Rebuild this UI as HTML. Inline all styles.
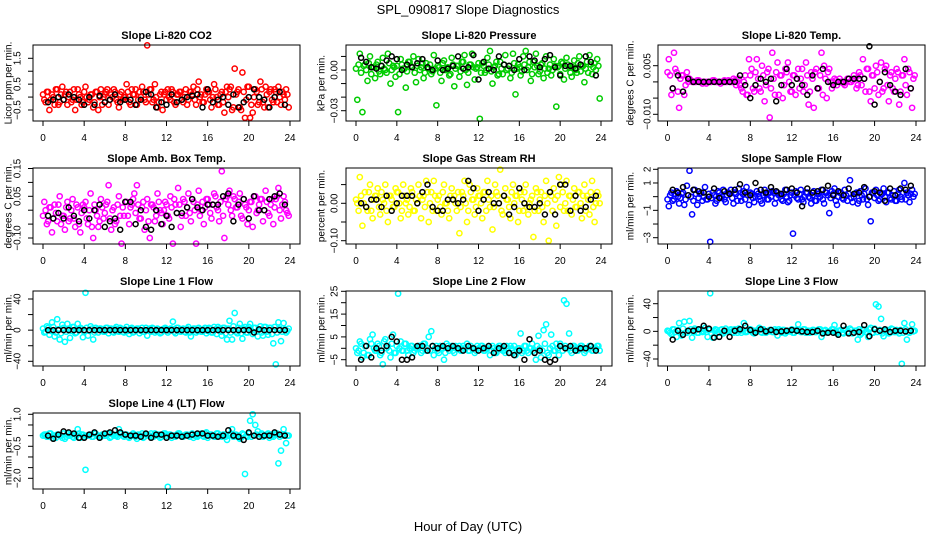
<!DOCTYPE html>
<html><head><meta charset="utf-8"><style>
body{margin:0;background:#fff;}
svg{display:block;font-family:"Liberation Sans",sans-serif;}
</style></head><body>
<svg id="chart" width="936" height="540" viewBox="0 0 936 540" xmlns="http://www.w3.org/2000/svg">
<text x="468" y="14" text-anchor="middle" font-size="13">SPL_090817  Slope Diagnostics</text>
<text x="468" y="531" text-anchor="middle" font-size="13">Hour of Day (UTC)</text>
</svg>
<script>
const xTicks=[0,4,8,12,16,20,24];
const co2Vals=[-0.1,0.2,-0.5,0.1,-0.3,0.3,-0.2,0.4,0.1,-0.3,0.2,-0.1,-0.5,0.3,0.0,-0.2,0.4,-0.2,0.1,-0.4,0.2,-0.5,0.3,0.0,0.2,-0.3,0.1,0.3,-0.1,-0.4,0.2,0.0,0.5,-0.2,0.3,0.1,-0.3,0.2,0.4,-0.1,2.0,0.3,-0.2,0.5,-0.4,0.1,-0.5,0.2,0.3,-0.1,0.2,-0.3,0.1,0.2,-0.2,0.3,-0.1,0.2,0.4,-0.3,0.6,0.1,-0.2,0.3,0.2,-0.4,0.5,0.0,-0.3,0.2,-0.6,0.4,0.3,-0.5,1.1,0.2,-0.4,0.95,-0.8,0.4,-0.8,-0.6,0.3,-0.3,0.6,-0.2,0.4,-0.4,0.3,-0.2,0.2,0.4,-0.3,0.1,0.3,-0.4];
const co2Core=[0.1,-0.2,0.2,-0.1,0.0,0.3,-0.3,0.1,-0.1,0.2,0.0,-0.2,0.3,-0.1,0.1,-0.3,0.2,0.0,-0.1,0.1,-0.2,0.2,0.0,-0.3,0.1,0.3,-0.1,0.0,0.2,-0.2,0.1,-0.1,0.0,0.2,-0.3,0.1,0.3,-0.1,0.0,0.2,-0.2,0.1,0.3,-0.1,0.0,-0.2,0.2,0.1,-0.1,0.0,0.3,-0.2,0.1,0.2,-0.1,0.0,-0.3,0.2,0.1,-0.1,0.3,0.0,-0.2,0.1,0.2,-0.1,0.0,0.3,-0.3,0.1,-0.2,0.2,0.0,0.4,-0.4,0.1,0.3,-0.5,0.2,-0.1,0.4,-0.3,0.0,0.2,-0.2,0.3,-0.4,0.1,0.2,-0.1,0.3,-0.2,0.0,0.2,-0.1,0.1];
const co2Med=[-0.2,-0.1,0.0,-0.1,0.1,0.0,-0.1,-0.3,0.0,-0.3,0.05,-0.2,-0.1,0.1,-0.2,-0.1,-0.1,-0.3,-0.1,0.2,0.1,-0.4,-0.2,-0.3,0.1,-0.2,-0.1,0.0,0.05,0.1,-0.4,0.3,-0.2,-0.1,0.0,-0.3,0.1,-0.4,-0.2,0.0,0.3,0.0,-0.1,-0.4,0.0,0.2,-0.3];
const presVals=[-0.022,0.012,-0.031,0.004,-0.008,0.010,0.002,-0.006,0.006,-0.003,0.009,0.000,0.012,-0.010,0.003,-0.005,-0.031,0.008,0.001,-0.013,0.006,0.003,0.010,-0.009,0.008,0.002,-0.006,0.005,0.001,-0.003,0.011,-0.026,0.002,-0.008,0.007,0.001,-0.004,0.009,-0.012,0.003,-0.005,0.006,0.011,-0.011,0.004,0.012,-0.007,0.002,-0.036,0.005,-0.002,0.009,0.014,-0.010,0.003,-0.004,0.006,-0.003,0.011,0.001,-0.006,0.012,-0.018,0.004,-0.004,0.010,0.014,0.002,-0.008,0.006,0.012,-0.003,0.004,-0.006,0.010,0.001,-0.004,0.008,-0.027,0.003,0.006,-0.007,0.009,0.002,-0.005,0.007,-0.002,0.010,0.003,-0.009,0.006,0.011,-0.003,0.005,0.008,-0.021];
const presCore=[0.001,0.004,-0.002,0.003,0.000,0.005,-0.003,0.002,0.004,-0.001,0.003,0.001,-0.002,0.005,0.000,0.002,0.003,-0.003,0.004,0.001,-0.001,0.006,0.002,-0.002,0.003,0.000,0.005,-0.002,0.002,0.004,-0.001,0.001,0.003,-0.002,0.005,0.000,0.002,-0.003,0.004,0.001,0.003,-0.001,0.006,0.000,-0.002,0.004,0.002,0.001,0.005,-0.002,0.003,0.000,0.004,-0.001,0.002,0.006,-0.003,0.001,0.004,0.000,0.003,-0.002,0.005,0.001,0.002,-0.001,0.004,0.000,0.006,-0.003,0.002,0.003,-0.001,0.005,0.001,-0.002,0.004,0.000,0.003,0.002,-0.003,0.005,0.001,0.004,-0.002,0.002,0.000,0.005,-0.001,0.003,0.001,-0.002,0.004,0.002,0.000,0.003];
const presMed=[0.009,0.006,0.002,0.001,0.003,0.007,0.010,0.008,0.000,0.004,0.002,0.005,0.008,0.002,0.000,0.007,0.000,0.001,0.003,0.010,0.001,0.002,0.011,-0.007,0.006,0.001,0.000,0.010,0.004,0.003,0.000,0.008,0.000,0.010,0.007,0.002,0.008,0.011,0.002,-0.004,0.003,0.003,0.001,0.004,0.010,0.006,-0.004];
const tempVals=[0.007,-0.004,0.009,0.003,-0.008,0.002,-0.004,0.003,0.001,0.000,0.000,0.0005,0.000,-0.0005,0.000,0.000,0.000,0.0005,0.000,0.000,-0.0005,0.000,0.000,0.0005,0.000,0.001,-0.001,0.001,-0.002,0.000,-0.004,0.007,0.004,-0.003,0.007,-0.002,0.005,-0.006,0.003,-0.011,0.009,-0.004,0.006,0.002,-0.005,0.004,0.006,-0.003,0.002,-0.004,0.004,0.001,-0.003,0.006,-0.007,0.003,-0.008,0.004,-0.002,0.009,0.005,-0.005,0.004,-0.002,0.001,-0.001,0.001,0.000,-0.001,0.001,0.000,0.0005,0.001,-0.001,0.002,0.007,-0.003,0.004,-0.006,0.002,0.005,-0.004,0.006,-0.002,0.005,-0.006,0.003,-0.003,0.004,-0.007,0.002,0.007,-0.004,0.003,-0.008,0.002];
const tempCore=[0.003,0.002,-0.002,0.004,-0.003,0.001,0.002,-0.001,0.000,0.0005,0.000,0.000,0.0005,0.000,0.000,-0.0005,0.000,0.000,0.0005,0.000,0.000,0.000,0.0005,0.000,0.000,0.000,0.0005,0.000,-0.001,-0.003,0.002,-0.004,0.002,-0.002,0.003,0.001,-0.003,0.002,-0.001,0.004,-0.002,0.001,0.003,-0.004,0.002,-0.001,0.003,0.000,-0.003,0.002,0.001,-0.002,0.004,-0.001,0.002,-0.003,0.001,0.003,-0.002,0.002,-0.004,0.001,0.003,0.000,0.000,0.0005,0.000,0.000,-0.0005,0.000,0.001,0.000,0.002,-0.002,0.003,-0.001,0.001,0.004,-0.003,0.002,-0.002,0.003,0.000,-0.003,0.004,-0.001,0.002,-0.002,0.001,0.003,-0.003,0.002,-0.001,0.004,-0.002,0.001];
const tempMed=[-0.002,0.002,-0.003,0.001,0.000,0.000,0.000,0.000,0.000,0.000,0.000,0.000,0.000,0.002,-0.001,-0.005,-0.001,0.001,0.000,0.001,-0.006,-0.001,0.004,-0.001,0.001,-0.001,-0.004,0.002,-0.002,0.004,0.000,-0.001,0.000,0.000,0.001,0.001,0.001,0.001,0.011,-0.007,0.000,0.003,-0.001,-0.003,-0.004,0.004,-0.002];
const ambVals=[0.03,-0.05,0.01,-0.08,0.02,-0.04,0.05,-0.02,-0.07,0.03,-0.03,0.04,-0.06,0.01,-0.08,0.02,0.03,-0.05,0.06,-0.10,0.00,-0.06,0.04,-0.03,0.02,0.09,-0.07,0.01,-0.04,0.05,-0.12,-0.02,0.03,-0.05,0.02,0.06,0.09,-0.03,0.01,-0.07,0.04,-0.10,0.02,-0.04,0.06,0.00,-0.05,0.03,-0.02,0.05,-0.12,0.02,0.08,-0.06,0.04,-0.02,0.06,-0.04,0.03,-0.12,0.07,0.00,-0.05,0.04,0.02,-0.03,0.06,0.01,-0.04,0.14,-0.10,0.05,0.07,-0.02,0.04,0.01,0.06,-0.03,0.02,-0.05,0.03,-0.06,0.05,0.00,0.04,-0.04,0.07,-0.01,0.02,-0.05,0.04,0.08,-0.03,0.05,0.00,-0.02];
const ambCore=[-0.02,0.00,-0.04,0.01,-0.03,-0.01,0.02,-0.05,-0.02,0.01,-0.04,0.00,-0.03,0.02,-0.05,-0.01,0.01,-0.03,0.00,-0.06,0.02,-0.02,-0.04,0.01,-0.01,0.03,-0.03,0.00,-0.05,0.02,-0.02,0.01,0.03,-0.02,0.01,0.04,-0.01,0.02,-0.03,0.03,0.00,-0.04,0.02,0.01,-0.02,0.03,-0.01,0.00,0.02,-0.03,0.01,0.04,-0.01,0.02,-0.02,0.03,0.01,-0.01,0.04,0.00,0.02,-0.02,0.03,0.01,0.04,-0.01,0.02,0.05,0.00,0.03,-0.02,0.04,0.02,0.00,0.05,0.01,0.03,-0.02,0.04,0.01,0.00,0.03,0.05,-0.01,0.02,0.04,0.00,0.03,-0.02,0.04,0.01,0.05,0.00,0.02,0.03,-0.01];
const ambMed=[-0.02,-0.03,-0.01,-0.03,0.01,-0.02,-0.04,0.00,-0.03,0.00,0.02,-0.06,-0.04,-0.03,-0.07,0.03,0.03,-0.05,0.00,-0.06,-0.07,0.00,-0.05,-0.02,-0.06,-0.01,-0.01,0.01,0.04,0.01,0.00,0.02,0.02,0.02,0.05,0.06,-0.04,0.02,0.04,-0.03,0.05,0.00,0.00,0.04,0.05,0.06,0.02];
const rhVals=[0.00,0.07,-0.06,0.03,-0.02,0.05,-0.04,0.02,0.04,-0.03,0.01,0.05,-0.05,0.02,-0.01,0.04,0.03,-0.04,0.05,0.00,-0.03,0.04,-0.02,0.01,0.05,-0.04,0.02,0.06,-0.05,0.03,0.06,-0.02,0.02,-0.03,0.05,0.00,-0.04,0.04,0.02,-0.02,-0.08,0.03,0.06,-0.05,0.05,0.01,-0.03,0.04,0.02,-0.04,0.03,0.06,-0.01,-0.07,0.05,0.02,0.09,-0.03,0.04,0.01,-0.04,0.05,0.02,-0.05,0.03,-0.02,0.05,-0.03,0.01,-0.09,0.04,-0.02,0.03,-0.05,0.06,-0.10,0.02,0.04,-0.06,0.07,0.05,-0.02,0.06,0.02,-0.03,0.04,-0.01,0.03,-0.04,0.05,0.02,-0.03,0.06,-0.05,0.03,0.00];
const rhCore=[0.01,-0.02,0.02,0.00,-0.01,0.03,-0.02,0.01,0.02,-0.01,0.03,0.00,-0.02,0.02,0.01,-0.01,0.03,0.00,-0.02,0.02,0.01,-0.01,0.03,-0.02,0.00,0.02,0.01,-0.01,0.03,0.00,-0.02,0.02,0.01,-0.01,0.03,0.00,-0.02,0.02,0.01,0.00,0.03,-0.01,0.02,0.00,-0.02,0.03,0.01,-0.01,0.02,0.00,0.03,-0.02,0.01,0.02,-0.01,0.03,0.00,-0.02,0.02,0.01,-0.01,0.03,0.00,0.02,-0.02,0.01,0.03,-0.01,0.00,0.02,-0.02,0.03,0.01,-0.01,0.02,0.00,0.03,-0.02,0.01,0.02,-0.01,0.03,0.00,-0.02,0.02,0.01,-0.01,0.03,0.00,0.02,-0.02,0.01,0.03,-0.01,0.00,0.02];
const rhMed=[0.00,-0.01,0.01,0.01,-0.01,0.02,-0.02,0.00,0.02,0.02,0.02,0.00,0.03,0.05,-0.01,-0.02,-0.02,0.01,0.01,0.00,0.01,0.06,0.04,-0.02,0.01,0.03,0.00,0.00,0.02,-0.03,-0.01,0.04,0.00,-0.01,-0.01,0.00,-0.03,0.03,-0.03,0.05,0.05,-0.02,0.02,-0.02,-0.01,0.01,0.02];
const sampVals=[-0.7,0.3,-0.2,0.4,-0.5,0.2,-0.6,0.8,1.9,-1.3,0.5,-0.6,0.2,-0.3,0.7,-0.2,-3.3,0.3,-0.5,0.4,-0.1,0.5,-0.4,0.3,0.5,-0.5,0.2,0.6,-0.3,0.4,0.7,-0.6,0.2,-0.4,0.4,0.0,-0.5,0.5,-0.2,0.3,0.4,-0.5,0.3,0.2,-0.3,0.5,-0.4,0.1,-2.7,0.4,-0.2,0.5,-0.4,0.3,0.0,-0.5,0.4,-0.3,0.2,0.5,-0.5,0.3,-1.2,0.4,0.6,-0.6,0.3,-0.1,0.5,-0.3,1.2,-0.4,0.2,-0.5,0.4,-0.2,0.6,-0.6,-1.8,0.3,0.5,-0.3,0.2,0.6,-0.4,0.3,-0.2,0.4,-0.3,0.5,-0.2,1.0,0.3,-0.4,0.5,0.2];
const sampCore=[-0.2,0.1,-0.3,0.2,0.0,-0.1,0.3,-0.2,0.1,0.0,-0.3,0.2,-0.1,0.3,0.0,-0.2,0.2,-0.1,0.1,-0.3,0.3,0.0,-0.2,0.1,0.2,-0.1,0.3,-0.3,0.0,0.2,-0.2,0.1,0.3,-0.1,0.0,0.2,-0.3,0.1,0.2,-0.2,0.0,0.3,-0.1,0.1,-0.2,0.2,0.0,-0.3,0.3,0.1,-0.1,0.2,-0.2,0.0,0.3,-0.1,0.1,-0.3,0.2,0.0,-0.2,0.3,0.1,-0.1,0.2,-0.3,0.0,0.3,-0.2,0.1,0.2,-0.1,0.0,0.3,-0.3,0.1,0.2,-0.2,0.0,0.3,-0.1,0.1,-0.2,0.2,0.0,0.3,-0.1,0.1,-0.3,0.2,0.0,0.3,-0.2,0.1,0.2,0.0];
const sampMed=[0.5,0.3,0.7,0.1,0.5,0.4,0.3,0.0,0.6,-0.1,0.4,0.2,0.5,0.9,0.3,0.1,1.0,0.5,0.3,0.7,0.4,0.2,0.5,0.6,0.3,-0.7,0.6,0.3,0.4,0.5,0.8,0.1,0.4,0.1,0.6,0.2,0.3,0.7,0.0,0.4,0.3,-0.3,0.6,0.1,0.6,0.5,0.8];
const l1Vals=[-3,5,-6,10,-8,14,-12,7,-15,8,-10,4,-4,8,3,-9,48,-7,5,-12,3,-3,2,-2,3,-4,2,-3,4,-2,1,-3,4,-5,3,-2,2,-4,3,-2,-7,2,3,-3,2,-4,1,3,-3,2,11,-4,3,-2,2,-3,4,-8,2,-3,3,-2,1,-4,3,-3,4,-5,2,-7,3,-12,12,-12,22,-4,8,-11,4,-3,8,-5,3,-8,5,-7,4,-6,3,-17,-44,10,-14,9,-3,2];
const l1Core=[2,-2,3,-1,4,-3,1,-4,3,-2,2,-1,4,-3,1,2,-2,3,-1,2,-3,1,2,-1,-2,3,1,-2,2,-1,3,-2,1,-1,2,-3,1,2,-1,-2,3,1,-2,2,-1,1,-3,2,1,-1,2,-2,3,-1,1,-2,2,-3,1,2,-1,1,-2,3,-1,2,-3,1,4,-2,3,-4,2,-3,5,-2,3,-4,2,-3,4,-1,3,-2,1,-3,4,-2,3,-5,4,-3,2,-2,1,-1];
const l1Med=[0,0,0,0,0,0,0,0,0,0,0,0,0,0,0,0,0,0,0,0,0,0,0,0,0,0,0,0,0,0,0,0,0,0,0,0,0,0,0,0,-3,1,0,0,0,0,0];
const l2Vals=[-2,3,-4,1,-3,4,6,-1,2,-3,-7,4,1,-4,6,-2,24,3,-1,2,-3,1,-2,0,1,-2,2,-1,5,7.5,-3,1,-2,0,-5,2,-1,1,-2,0,1,-1,0,2,-1,0,-2,1,0,1,-1,0,-3,1,-2,0,1,-1,-2,0,1,-2,-3,0,6.5,-1,1,-2,0,-1,-5,5.5,-4,8,10.5,-3,6,-1,2,-3,1,21,19.5,6.5,-2,1,-1,0,1,-2,0,1,-1,0,1,-1];
const l2Core=[0,-1,2,-2,1,-3,2,0,-1,1,-2,3,0,-1,2,-2,1,0,-1,2,-1,0,1,-1,0,1,-1,2,0,-1,1,0,-1,1,0,-2,1,0,-1,1,0,-1,1,0,-1,1,0,-1,0,1,-1,0,1,-1,0,-2,1,0,-1,1,-2,0,1,-1,0,-2,1,-1,0,2,-2,1,0,-1,2,-2,0,1,-1,0,2,-1,1,0,-1,1,0,-1,1,0,-1,0,1,-1,0,1];
const l2Med=[-5,1,-4,0,-1,1,5,3,-5,-5,-4,1,1,-1,1,0,1,0,1,0,-1,1,0,-1,0,1,-2,0,1,-2,-3,-1,-5,4,-2,-1,-5,-6,-5,1,0,1,-1,0,0,1,-1];
const l3Vals=[0,-4,3,-8,12,-6,14,-2,15,-9,4,-2,3,-1,5,-8,55,-9,3,-1,2,-3,4,0,3,-2,1,4,-2,12,-1,3,2,-3,1,5,-2,1,0,2,-1,3,-6,1,2,-3,1,0,-2,2,10,-1,3,-2,1,0,2,-1,3,-8,1,-2,0,3,9,-3,1,-2,2,-1,4,-3,1,-12,-5,3,-1,-8,5,-2,39,36,18,-7,2,-3,4,-1,2,-3,-47,12,-12,-2,10,1];
const l3Core=[1,-2,3,-1,2,-3,4,-2,1,3,-1,2,-2,3,0,-1,2,-3,1,2,-2,3,-1,1,2,-1,3,-2,1,2,-1,0,3,-2,1,2,-1,3,-2,0,2,-1,1,3,-2,2,-1,0,3,-2,1,2,-1,3,0,-2,2,-1,1,3,-2,2,-1,0,3,-2,1,2,-3,3,-1,2,-2,1,3,-3,2,-1,3,-2,4,-1,2,-3,1,2,-2,3,-1,0,2,-2,3,-1,1,0];
const l3Med=[-12,1,-5,1,1,3,8,4,-9,-8,1,-8,1,3,8,2,-2,3,0,2,-1,0,1,2,1,0,-1,-1,1,-3,-2,-2,-5,8,-3,-2,-1,9,-7,3,1,3,-1,1,1,0,1];
const l4Vals=[0.05,-0.05,0.1,-0.1,0.0,0.05,0.0,-0.1,-0.15,0.1,0.0,-0.05,0.05,0.3,-0.1,0.05,-1.6,0.0,0.05,-0.05,0.1,0.0,-0.05,0.05,0.0,0.1,-0.05,0.05,0.0,0.3,0.1,-0.05,0.05,-0.1,0.0,0.05,-0.15,0.0,0.1,-0.05,0.05,0.0,-0.05,0.1,0.0,-0.1,0.05,0.1,-2.4,0.05,0.0,-0.05,0.1,0.0,-0.05,0.05,0.0,0.05,-0.1,0.05,0.0,0.1,-0.05,0.15,0.0,0.05,-0.05,0.1,0.0,-0.05,0.05,-0.2,0.05,0.3,0.0,-0.05,-0.15,0.1,-1.8,-0.05,0.7,1.0,0.5,0.2,0.05,-0.05,0.0,0.1,0.05,-0.05,0.1,-1.3,-0.7,0.3,-0.35,0.0];
const l4Core=[0.0,0.05,-0.05,0.1,0.0,-0.1,0.05,0.0,0.1,-0.05,0.0,0.05,-0.1,0.0,0.1,0.05,-0.05,0.0,0.05,-0.05,0.1,0.0,-0.05,0.05,0.0,0.1,-0.1,0.05,0.0,-0.05,0.1,0.0,0.05,-0.05,0.0,0.1,-0.05,0.05,0.0,-0.1,0.05,0.0,0.1,-0.05,0.0,0.05,-0.05,0.1,0.0,0.05,-0.1,0.0,0.05,0.1,-0.05,0.0,0.05,-0.05,0.1,0.0,-0.05,0.05,0.0,0.1,-0.1,0.05,0.0,-0.05,0.1,0.0,0.05,-0.05,0.0,0.1,-0.05,0.05,0.0,-0.1,0.05,0.0,0.1,-0.05,0.0,0.05,-0.05,0.1,0.0,0.05,-0.1,0.0,0.05,0.1,-0.05,0.0,0.05,0.0];
const l4Med=[0.0,-0.15,0.05,0.2,0.15,0.1,-0.1,-0.1,0.05,0.15,-0.1,0.1,0.15,0.25,0.15,0.05,0.0,0.0,-0.05,0.1,-0.1,0.05,0.05,-0.1,0.0,0.0,-0.05,0.0,0.05,0.1,0.1,0.0,0.0,-0.05,0.0,0.25,0.0,-0.05,-0.2,0.15,0.0,-0.05,0.0,0.0,0.15,0.05,0.0];

const NS='http://www.w3.org/2000/svg';
const svg=document.getElementById('chart');
function mk(tag,attrs,parent){const e=document.createElementNS(NS,tag);for(const k in attrs)e.setAttribute(k,attrs[k]);(parent||svg).appendChild(e);return e;}

const panels=[
 {id:'co2',title:'Slope Li-820 CO2',ylab:'Licor ppm per min.',color:'#ff0000',vals:co2Vals,core:co2Core,med:co2Med,box:[33,45,300,121],xa:[43,290],ya:[1.5,58.3,-0.5,110],ticks:[1.5,1.0,0.5,0.0,-0.5],labels:[1.5,0.5,-0.5],fmt:v=>v.toFixed(1).replace('-','\u2212'),ylx:9,tlx:18},
 {id:'pressure',title:'Slope Li-820 Pressure',ylab:'kPa per min.',color:'#00cc00',vals:presVals,core:presCore,med:presMed,box:[346,45,612,121],xa:[356,601],ya:[0,70,-0.03,110.7],ticks:[0.01,0,-0.01,-0.02,-0.03],labels:[0,-0.03],fmt:v=>v.toFixed(2).replace('-','\u2212'),ylx:322,tlx:335},
 {id:'temp',title:'Slope Li-820 Temp.',ylab:'degrees C per min.',color:'#ff00ff',vals:tempVals,core:tempCore,med:tempMed,box:[658,45,925,121],xa:[667.5,916],ya:[0.005,65.7,-0.01,114.3],ticks:[0.005,0,-0.005,-0.01],labels:[0.005,-0.01],fmt:v=>v.toFixed(3).replace('-','\u2212'),ylx:631,tlx:648},
 {id:'ambbox',title:'Slope Amb. Box Temp.',ylab:'degrees C per min.',color:'#ff00ff',vals:ambVals,core:ambCore,med:ambMed,box:[33,168,300,244],xa:[43,290],ya:[0.15,168.5,-0.1,238],ticks:[0.15,0.1,0.05,0,-0.05,-0.1],labels:[0.15,0.05,-0.1],fmt:v=>v.toFixed(2).replace('-','\u2212'),ylx:9,tlx:18},
 {id:'rh',title:'Slope Gas Stream RH',ylab:'percent per min.',color:'#ffff00',vals:rhVals,core:rhCore,med:rhMed,box:[346,168,612,244],xa:[356,601],ya:[0,203.3,-0.1,240.7],ticks:[0.05,0,-0.05,-0.1],labels:[0,-0.1],fmt:v=>v.toFixed(2).replace('-','\u2212'),ylx:322,tlx:335},
 {id:'sample',title:'Slope Sample Flow',ylab:'ml/min per min.',color:'#0000ff',vals:sampVals,core:sampCore,med:sampMed,box:[658,168,925,244],xa:[667.5,916],ya:[2,169.3,-3,237.7],ticks:[2,1,0,-1,-2,-3],labels:[2,1,-1,-3],fmt:v=>String(v).replace('-','\u2212'),ylx:631,tlx:648},
 {id:'line1',title:'Slope Line 1 Flow',ylab:'ml/min per min.',color:'#00ffff',vals:l1Vals,core:l1Core,med:l1Med,box:[33,291,300,366],xa:[43,290],ya:[40,299,-40,361.3],ticks:[40,20,0,-20,-40],labels:[40,0,-40],fmt:v=>String(v).replace('-','\u2212'),ylx:9,tlx:18},
 {id:'line2',title:'Slope Line 2 Flow',ylab:'ml/min per min.',color:'#00ffff',vals:l2Vals,core:l2Core,med:l2Med,box:[346,291,612,366],xa:[356,601],ya:[25,291.3,-5,359.7],ticks:[25,20,15,10,5,0,-5],labels:[25,15,5,-5],fmt:v=>String(v).replace('-','\u2212'),ylx:322,tlx:335},
 {id:'line3',title:'Slope Line 3 Flow',ylab:'ml/min per min.',color:'#00ffff',vals:l3Vals,core:l3Core,med:l3Med,box:[658,291,925,366],xa:[667.5,916],ya:[40,303.7,-40,359],ticks:[40,20,0,-20,-40],labels:[40,0,-40],fmt:v=>String(v).replace('-','\u2212'),ylx:631,tlx:648},
 {id:'line4',title:'Slope Line 4 (LT) Flow',ylab:'ml/min per min.',color:'#00ffff',vals:l4Vals,core:l4Core,med:l4Med,box:[33,413,300,489],xa:[43,290],ya:[1.0,414.3,-2.0,478.3],ticks:[1,0.5,0,-0.5,-1,-1.5,-2],labels:[1,-0.5,-2],fmt:v=>v.toFixed(1).replace('-','\u2212'),ylx:9,tlx:18}
];

panels.forEach(p=>{
  const g=mk('g',{});
  
  
  const [bx0,by0,bx1,by1]=p.box;
  const xs=h=>p.xa[0]+(p.xa[1]-p.xa[0])*h/24;
  const ys=v=>p.ya[1]+(v-p.ya[0])*(p.ya[3]-p.ya[1])/(p.ya[2]-p.ya[0]);
  const t=mk('text',{x:(bx0+bx1)/2,y:by0-6,'text-anchor':'middle','font-size':'11','font-weight':'bold'},g);
  t.textContent=p.title;
  
  
  const yl=mk('text',{x:p.ylx,y:(by0+by1)/2,'text-anchor':'middle','font-size':'10','dominant-baseline':'central',transform:`rotate(-90 ${p.ylx} ${(by0+by1)/2})`},g);
  yl.textContent=p.ylab;
  
  
  const pts=mk('g',{fill:'none',stroke:p.color,'stroke-width':'1.5'},g);
  
  
  p.vals.forEach((v,i)=>{
    const h=0.125+0.25*i;
    const c=mk('circle',{cx:xs(h).toFixed(1),cy:ys(v).toFixed(1),r:2.6},pts);
    
    
  });
  p.core.forEach((v,i)=>{
    const h=0.25*i;
    const c=mk('circle',{cx:xs(h).toFixed(1),cy:ys(v).toFixed(1),r:2.6},pts);
    
    
  });
  const md=mk('g',{fill:'none',stroke:'#000','stroke-width':'1.5'},g);
  
  
  p.med.forEach((v,i)=>{
    const h=0.5*(i+1);
    const c=mk('circle',{cx:xs(h).toFixed(1),cy:ys(v).toFixed(1),r:2.5},md);
    
    
  });
  const box=mk('rect',{x:bx0,y:by0,width:bx1-bx0,height:by1-by0,fill:'none',stroke:'#000','stroke-width':'1'},g);
  
  
  const xa=mk('g',{stroke:'#000','stroke-width':'1'},g);
  
  
  mk('line',{x1:xs(0),y1:by1,x2:xs(24),y2:by1},xa);
  xTicks.forEach(h=>{
    mk('line',{x1:xs(h),y1:by1,x2:xs(h),y2:by1+5},xa);
    const tx=mk('text',{x:xs(h),y:by1+20,'text-anchor':'middle','font-size':'10',stroke:'none',fill:'#000'},xa);
    tx.textContent=h;
    
    
  });
  const ya=mk('g',{stroke:'#000','stroke-width':'1'},g);
  
  
  mk('line',{x1:bx0,y1:ys(p.ticks[0]),x2:bx0,y2:ys(p.ticks[p.ticks.length-1])},ya);
  p.ticks.forEach(v=>{mk('line',{x1:bx0-5,y1:ys(v),x2:bx0,y2:ys(v)},ya);});
  p.labels.forEach(v=>{
    const y=ys(v);
    const tx=mk('text',{x:p.tlx,y:y,'text-anchor':'middle','font-size':'10','dominant-baseline':'central',stroke:'none',fill:'#000',transform:`rotate(-90 ${p.tlx} ${y})`},ya);
    tx.textContent=p.fmt(v);
    
    
  });
});
</script>
</body></html>
